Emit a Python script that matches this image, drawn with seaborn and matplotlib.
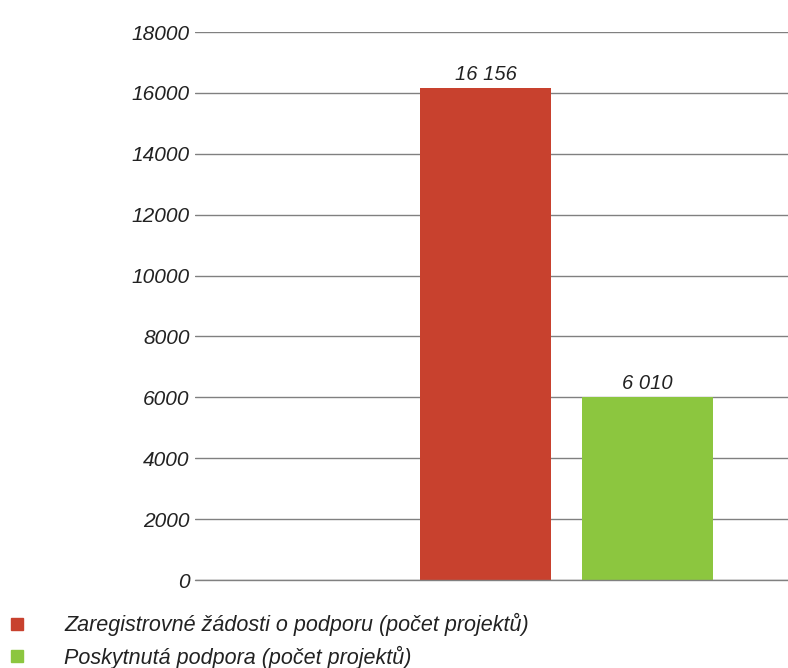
import matplotlib
matplotlib.use("Agg")
import matplotlib.pyplot as plt
import seaborn as sns
from matplotlib.lines import Line2D

# Data
kategorie = ["Zaregistrovné žádosti o podporu (počet projektů)",
             "Poskytnutá podpora (počet projektů)"]
hodnoty = [16156, 6010]
popisky = ["16 156", "6 010"]
barvy = ["#C8412E", "#8CC63F"]
osa_y = list(range(0, 18001, 2000))

sns.set_style("white")
plt.rcParams["font.family"] = ["Liberation Sans", "DejaVu Sans"]

fig = plt.figure(figsize=(7.88, 6.68), dpi=100)
ax = fig.add_axes([0.2475, 0.1317, 0.7525, 0.8203])

sns.barplot(x=kategorie, y=hodnoty, hue=kategorie, palette=barvy,
            width=0.81, saturation=1, legend=False, ax=ax, zorder=3,
            linewidth=0)

# Popisky nad sloupci
for i, (v, t) in enumerate(zip(hodnoty, popisky)):
    ax.text(i, v + 150, t, ha="center", va="bottom", fontsize=14.5,
            style="italic", color="#222222")

ax.set_xlim(-1.793, 1.867)
ax.set_ylim(0, 18000)
ax.set_yticks(osa_y)
ax.set_yticklabels([str(v) for v in osa_y], fontsize=15, style="italic",
                   color="#222222")
ax.set_xticks([])
ax.tick_params(axis="y", length=0, pad=4)
ax.yaxis.grid(True, color="#808080", linewidth=1)
ax.axhline(0, color="#808080", linewidth=1, clip_on=False, zorder=4)
ax.set_axisbelow(True)
for s in ax.spines.values():
    s.set_visible(False)
ax.set_xlabel("")
ax.set_ylabel("")

# Legenda dole
handles = [Line2D([], [], marker="s", linestyle="", markersize=9,
                  markerfacecolor=c, markeredgecolor=c) for c in barvy]
fig.legend(handles, kategorie, loc="upper left", bbox_to_anchor=(0.002, 0.085),
           frameon=False, prop={"size": 15.5, "style": "italic"},
           handletextpad=1.6, labelspacing=0.42, borderaxespad=0,
           borderpad=0.1, handlelength=1.2, labelcolor="#222222")

fig.savefig("out.png", dpi=100)
